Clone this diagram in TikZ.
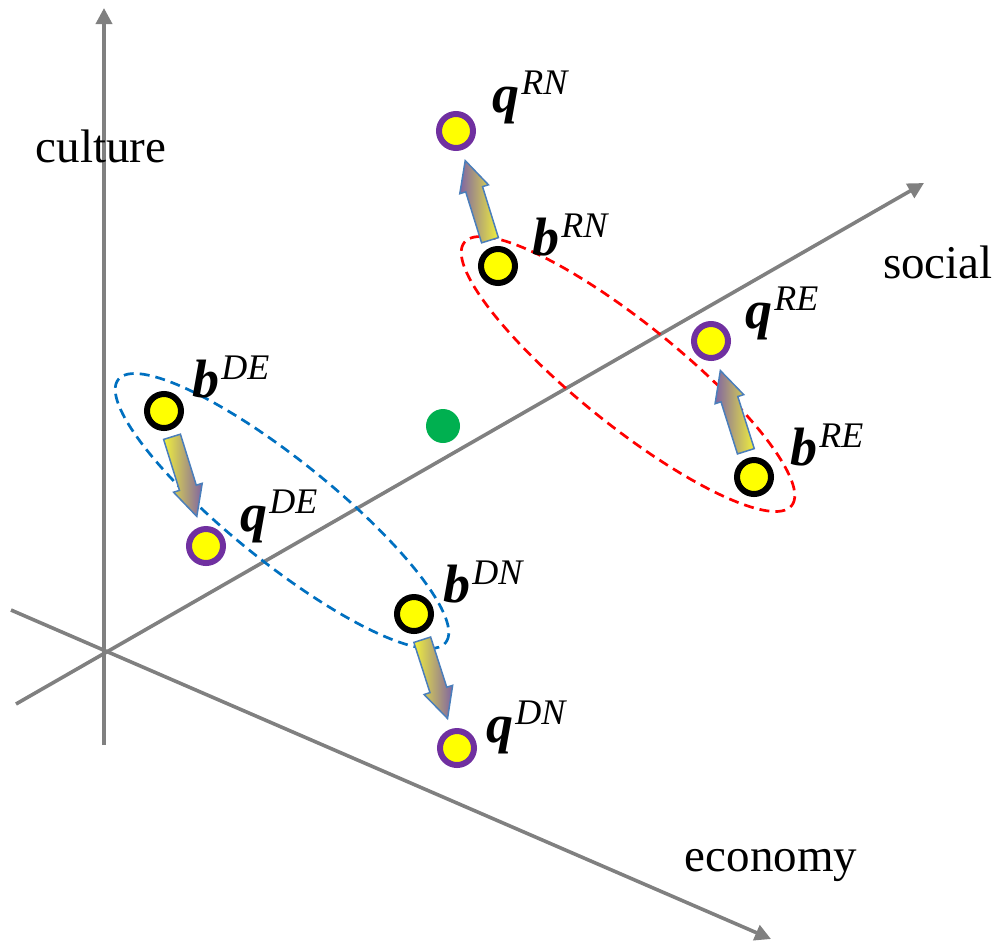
\documentclass[tikz,border=0pt]{standalone}
\usepackage{fontspec}
\setmainfont{Liberation Serif}
\usetikzlibrary{shapes.geometric,arrows.meta,positioning,calc}
\definecolor{axisgray}{RGB}{128,128,128}
\definecolor{ringpurple}{RGB}{112,48,160}
\definecolor{dotgreen}{RGB}{0,176,80}
\definecolor{ptyellow}{RGB}{255,255,0}
\definecolor{ellred}{RGB}{255,0,0}
\definecolor{ellblue}{RGB}{0,112,192}
\definecolor{arrowedge}{RGB}{74,126,187}
\definecolor{shadepurple}{RGB}{128,100,162}
\definecolor{shadeyellow}{RGB}{240,240,60}

% vector label: bold italic letter, italic superscript
\newcommand{\vlab}[2]{\textbf{\textit{#1}}\raisebox{9pt}{\fontsize{18}{20}\selectfont\itshape\kern1pt#2}}

% block arrow from one point towards another
\newcommand{\fatarrow}[3]{%
    \coordinate (t) at ($(#2)!13.5pt!(#3)$);
    \coordinate (p) at ($(#3)!15.5pt!(#2)$);
    \coordinate (h) at ($(p)!15pt!(t)$);
    \filldraw[#1] ($(t)!4.4pt!90:(p)$) -- ($(h)!4.4pt!90:(p)$) -- ($(h)!7.5pt!90:(p)$)
        -- (p) -- ($(h)!7.5pt!-90:(p)$) -- ($(h)!4.4pt!-90:(p)$) -- ($(t)!4.4pt!-90:(p)$) -- cycle;
}

\begin{document}
\begin{tikzpicture}[
    x=0.5pt, y=-0.5pt,
    axis/.style={axisgray, line width=1.8pt, -{Triangle[length=8pt,width=8pt]}},
    axlabel/.style={font=\fontsize{23.5}{28}\selectfont, inner sep=0pt},
    bpt/.style={circle, draw=black, line width=3pt, fill=ptyellow, minimum size=17pt, inner sep=0pt},
    qpt/.style={bpt, draw=ringpurple},
    lbl/.style={font=\fontsize{27}{32}\selectfont, anchor=base west, inner sep=0pt},
    ring/.style={ellipse, draw, line width=1.35pt, dash pattern=on 5pt off 3pt,
        minimum width=210pt, minimum height=51pt, inner sep=0pt, rotate=-38.8},
    upshade/.style={draw=arrowedge, line width=0.75pt, left color=shadepurple, right color=shadeyellow},
    downshade/.style={draw=arrowedge, line width=0.75pt, left color=shadeyellow, right color=shadepurple}
]
    \useasboundingbox (0,0) rectangle (994,943);

    % axes
    \coordinate (O) at (104,652);
    \coordinate (cbot) at (104,745);
    \coordinate (ctop) at (104,8);
    \coordinate (sbot) at (16,704);
    \coordinate (stop) at (924,183);
    \coordinate (etop) at (11,610);
    \coordinate (ebot) at (771,939);
    \draw[axis] (cbot) -- (ctop);
    \draw[axis] (sbot) -- (stop);
    \draw[axis] (etop) -- (ebot);
    \node[axlabel] (culture) at (101,146) {culture};
    \node[axlabel] (social) at (938,262) {social};
    \node[axlabel] (economy) at (771,865) {economy};

    % groups
    \node[ring, draw=ellred] (rgroup) at (628,374) {};
    \node[ring, draw=ellblue] (dgroup) at (282,511) {};

    % points
    \node[bpt] (bRN) at (498,266) {};
    \node[qpt] (qRN) at (456,131) {};
    \node[bpt] (bRE) at (754,477) {};
    \node[qpt] (qRE) at (711,341) {};
    \node[bpt] (bDE) at (164,411) {};
    \node[qpt] (qDE) at (206,546) {};
    \node[bpt] (bDN) at (414,614) {};
    \node[qpt] (qDN) at (457,748) {};
    \node[circle, fill=dotgreen, minimum size=17pt, inner sep=0pt] (center) at (443,426) {};

    \node[lbl] at ([shift={(34,-11)}]bRN) {\vlab{b}{RN}};
    \node[lbl] at ([shift={(36,-19)}]qRN) {\vlab{q}{RN}};
    \node[lbl] at ([shift={(36,-12)}]bRE) {\vlab{b}{RE}};
    \node[lbl] at ([shift={(34,-13)}]qRE) {\vlab{q}{RE}};
    \node[lbl] at ([shift={(28,-14)}]bDE) {\vlab{b}{DE}};
    \node[lbl] at ([shift={(34,-15)}]qDE) {\vlab{q}{DE}};
    \node[lbl] at ([shift={(29,-12)}]bDN) {\vlab{b}{DN}};
    \node[lbl] at ([shift={(29,-6)}]qDN) {\vlab{q}{DN}};

    % moves
    \fatarrow{upshade}{bRN}{qRN}
    \fatarrow{upshade}{bRE}{qRE}
    \fatarrow{downshade}{bDE}{qDE}
    \fatarrow{downshade}{bDN}{qDN}
\end{tikzpicture}
\end{document}
